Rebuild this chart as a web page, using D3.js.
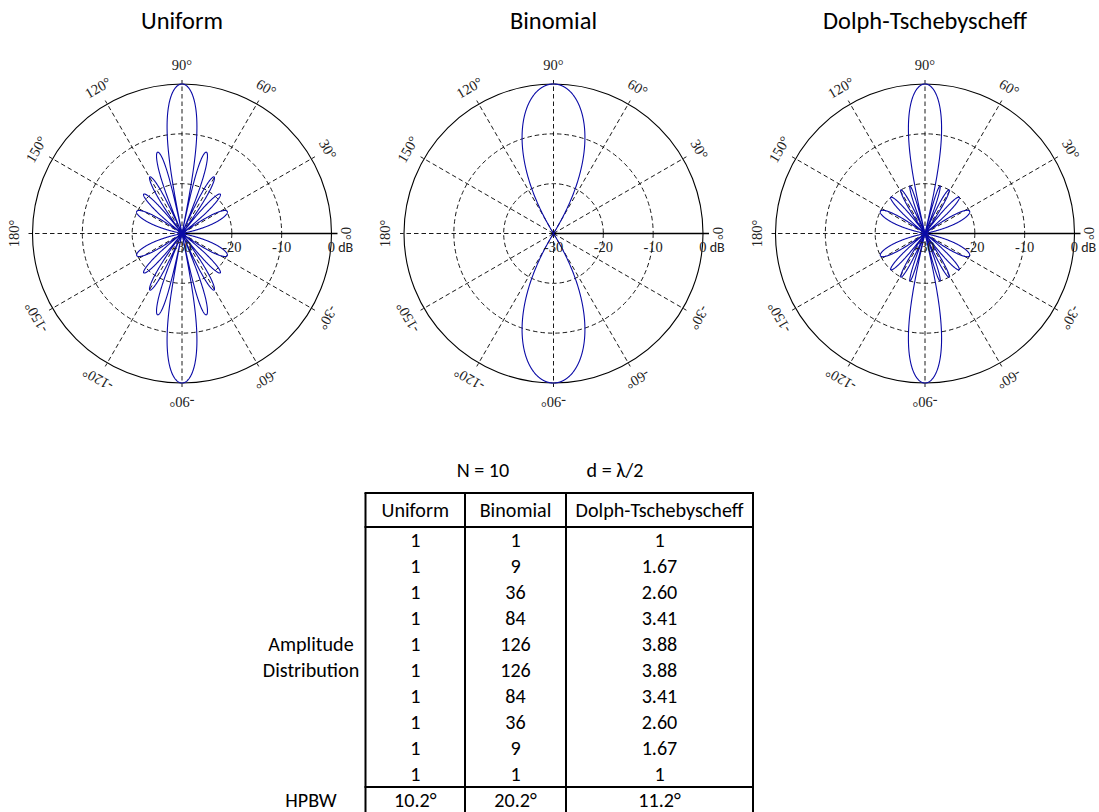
<!DOCTYPE html>
<html>
<head>
<meta charset="utf-8">
<script src="https://cdn.jsdelivr.net/npm/d3@7"></script>
<style>
  html, body { margin: 0; padding: 0; background: #ffffff; }
  svg { display: block; }
</style>
</head>
<body>
<svg id="chart" width="1099" height="812"></svg>
<script>
// ---- data -------------------------------------------------------------
const arrayTitles = ["Uniform", "Binomial", "Dolph-Tschebyscheff"];
const elementCount = 10;            // N
const spacingWavelengths = 0.5;     // d = λ/2
const uniformAmps  = [1, 1, 1, 1, 1, 1, 1, 1, 1, 1];
const binomialAmps = [1, 9, 36, 84, 126, 126, 84, 36, 9, 1];
const dolphAmps    = [1, 1.67, 2.60, 3.41, 3.88, 3.88, 3.41, 2.60, 1.67, 1];
const dolphSidelobeDb = -20;        // equiripple side-lobe level of the Chebyshev pattern
const hpbwLabels = ["10.2°", "20.2°", "11.2°"];
const dbTicks = [-30, -20, -10, 0];
const angleTicks = [0, 30, 60, 90, 120, 150, 180, -150, -120, -90, -60, -30];

// ---- layout -----------------------------------------------------------
const svg = d3.select("#chart");
const R = 149.5;
const centers = [182, 553.5, 925];
const cy = 233.5;
const blue = "#0a0aa6";
const sansFont = "Carlito, Calibri, Lato, sans-serif";
const serifFont = "'Liberation Serif', 'Times New Roman', serif";

// font size that makes a string span the given width
function fitSize(str, width, family) {
  const t = svg.append("text").attr("font-family", family).attr("font-size", 100).text(str);
  const w = t.node().getComputedTextLength();
  t.remove();
  return 100 * width / w;
}
const titleSize = fitSize("Uniform", 82, sansFont);
const tableFont = fitSize("Dolph-Tschebyscheff", 168, sansFont);

const rScale = d3.scaleLinear().domain([-30, 0]).range([0, R]).clamp(true);

// array factor of a linear broadside array along the 0°–180° axis
function arrayFactor(amps, theta) {
  const psi = 2 * Math.PI * spacingWavelengths * Math.cos(theta);
  let re = 0, im = 0;
  amps.forEach((a, n) => { re += a * Math.cos(n * psi); im += a * Math.sin(n * psi); });
  return Math.hypot(re, im);
}
function patternDb(amps) {
  const peak = d3.sum(amps);
  return theta => 20 * Math.log10(Math.max(arrayFactor(amps, theta) / peak, 1e-9));
}
// Chebyshev pattern T_{N-1}(x0 cos u) for the given side-lobe level
function chebyshevDb(levelDb) {
  const r0 = Math.pow(10, -levelDb / 20);
  const m = elementCount - 1;
  const x0 = Math.cosh(Math.acosh(r0) / m);
  const T = x => Math.abs(x) <= 1 ? Math.cos(m * Math.acos(x))
                                   : Math.sign(x) ** m * Math.cosh(m * Math.acosh(Math.abs(x)));
  return theta => {
    const u = Math.PI * spacingWavelengths * Math.cos(theta);
    const v = Math.abs(T(x0 * Math.cos(u))) / r0;
    return 20 * Math.log10(Math.max(v, 1e-9));
  };
}

const patterns = [patternDb(uniformAmps), patternDb(binomialAmps), chebyshevDb(dolphSidelobeDb)];
const thetas = d3.range(0, 3600.5, 1).map(i => i * Math.PI / 1800);

function drawPolar(i) {
  const cx = centers[i];
  const g = svg.append("g").attr("transform", `translate(${cx},${cy})`);

  // title
  svg.append("text")
    .attr("x", cx).attr("y", 29)
    .attr("text-anchor", "middle")
    .attr("font-family", sansFont).attr("font-size", titleSize)
    .attr("fill", "#000")
    .text(arrayTitles[i]);

  // outer ring (0 dB)
  g.append("circle").attr("r", rScale(0))
    .attr("fill", "none").attr("stroke", "#000").attr("stroke-width", 1.1);

  // dashed rings
  g.selectAll("circle.ring").data(dbTicks.filter(d => d > -30 && d < 0)).enter()
    .append("circle").attr("class", "ring")
    .attr("r", d => rScale(d))
    .attr("fill", "none").attr("stroke", "#000")
    .attr("stroke-width", 0.9).attr("stroke-dasharray", "4.5,3");

  // dashed spokes
  g.selectAll("line.spoke").data(angleTicks).enter()
    .append("line").attr("class", "spoke")
    .attr("x1", 0).attr("y1", 0)
    .attr("x2", d => (R + 4) * Math.cos(d * Math.PI / 180))
    .attr("y2", d => -(R + 4) * Math.sin(d * Math.PI / 180))
    .attr("stroke", "#000").attr("stroke-width", 0.9)
    .attr("stroke-dasharray", "4.5,3");

  // solid radial axis along 0°
  g.append("line")
    .attr("x1", 0).attr("y1", 0).attr("x2", R + 6).attr("y2", 0)
    .attr("stroke", "#000").attr("stroke-width", 1.6);

  // pattern
  const f = patterns[i];
  const line = d3.lineRadial()
    .angle(t => Math.PI / 2 - t)
    .radius(t => rScale(f(t)))
    .curve(d3.curveLinear);
  g.append("path").datum(thetas)
    .attr("d", line)
    .attr("fill", "none").attr("stroke", blue).attr("stroke-width", 1.1)
    .attr("stroke-linejoin", "round");

  // dB labels along the 0° axis
  const dbLab = g.selectAll("text.db").data(dbTicks).enter()
    .append("text").attr("class", "db")
    .attr("x", d => rScale(d)).attr("y", 13)
    .attr("dy", "0.35em")
    .attr("font-family", serifFont).attr("font-size", 14.5)
    .attr("fill", "#222");
  dbLab.filter(d => d !== 0).attr("text-anchor", "middle").text(d => d);
  const zero = dbLab.filter(d => d === 0).attr("text-anchor", "start").attr("dx", -3.7);
  zero.append("tspan").text("0");
  zero.append("tspan").attr("font-family", sansFont).attr("font-size", 14).text(" dB");

  // angle labels, rotated tangentially (the 0° one sits a little closer in)
  const labelRadius = d => d === 0 ? 164 : 168;
  g.selectAll("text.ang").data(angleTicks).enter()
    .append("text").attr("class", "ang")
    .attr("transform", d => {
      const a = d * Math.PI / 180, lr = labelRadius(d);
      return `translate(${lr * Math.cos(a)},${-lr * Math.sin(a)}) rotate(${90 - d})`;
    })
    .attr("text-anchor", "middle").attr("dy", "0.32em")
    .attr("font-family", serifFont).attr("font-size", 14.5)
    .attr("fill", "#222")
    .text(d => d + "°");
}
[0, 1, 2].forEach(drawPolar);

// ---- table ------------------------------------------------------------
const colEdges = [365.5, 465, 566, 753];
const tableTop = 493, headerBottom = 527, rowH = 26;
const fmt = v => Number.isInteger(v) ? String(v) : v.toFixed(2);
const columns = [uniformAmps, binomialAmps, dolphAmps];

svg.append("text").attr("x", 483).attr("y", 470).attr("dy", "0.35em")
  .attr("text-anchor", "middle").attr("font-family", sansFont).attr("font-size", tableFont)
  .text("N = " + elementCount);
svg.append("text").attr("x", 615).attr("y", 470).attr("dy", "0.35em")
  .attr("text-anchor", "middle").attr("font-family", sansFont).attr("font-size", tableFont)
  .text("d = λ/2");

const tbl = svg.append("g").attr("font-family", sansFont).attr("font-size", tableFont)
  .attr("fill", "#000");

// header
arrayTitles.forEach((t, j) => {
  tbl.append("text").attr("x", (colEdges[j] + colEdges[j + 1]) / 2).attr("y", 510)
    .attr("dy", "0.35em").attr("text-anchor", "middle").text(t);
});
// amplitude rows
columns.forEach((col, j) => {
  tbl.selectAll(null).data(col).enter().append("text")
    .attr("x", (colEdges[j] + colEdges[j + 1]) / 2)
    .attr("y", (d, k) => headerBottom + rowH * k + rowH / 2)
    .attr("dy", "0.35em").attr("text-anchor", "middle")
    .text(fmt);
});
const hpbwTop = headerBottom + rowH * elementCount;
hpbwLabels.forEach((t, j) => {
  tbl.append("text").attr("x", (colEdges[j] + colEdges[j + 1]) / 2)
    .attr("y", hpbwTop + rowH / 2).attr("dy", "0.35em").attr("text-anchor", "middle").text(t);
});
// row captions
tbl.append("text").attr("x", 311).attr("y", headerBottom + rowH * 4.5).attr("dy", "0.35em")
  .attr("text-anchor", "middle").text("Amplitude");
tbl.append("text").attr("x", 311).attr("y", headerBottom + rowH * 5.5).attr("dy", "0.35em")
  .attr("text-anchor", "middle").text("Distribution");
tbl.append("text").attr("x", 311).attr("y", hpbwTop + rowH / 2).attr("dy", "0.35em")
  .attr("text-anchor", "middle").text("HPBW");

// borders
const bottom = hpbwTop + rowH + 2;
const lines = tbl.append("g").attr("stroke", "#000").attr("stroke-width", 2);
colEdges.forEach(x => lines.append("line").attr("x1", x).attr("x2", x).attr("y1", tableTop).attr("y2", bottom));
[tableTop, headerBottom, hpbwTop].forEach(y =>
  lines.append("line").attr("x1", colEdges[0] - 1).attr("x2", colEdges[3] + 1).attr("y1", y).attr("y2", y));
</script>
</body>
</html>
